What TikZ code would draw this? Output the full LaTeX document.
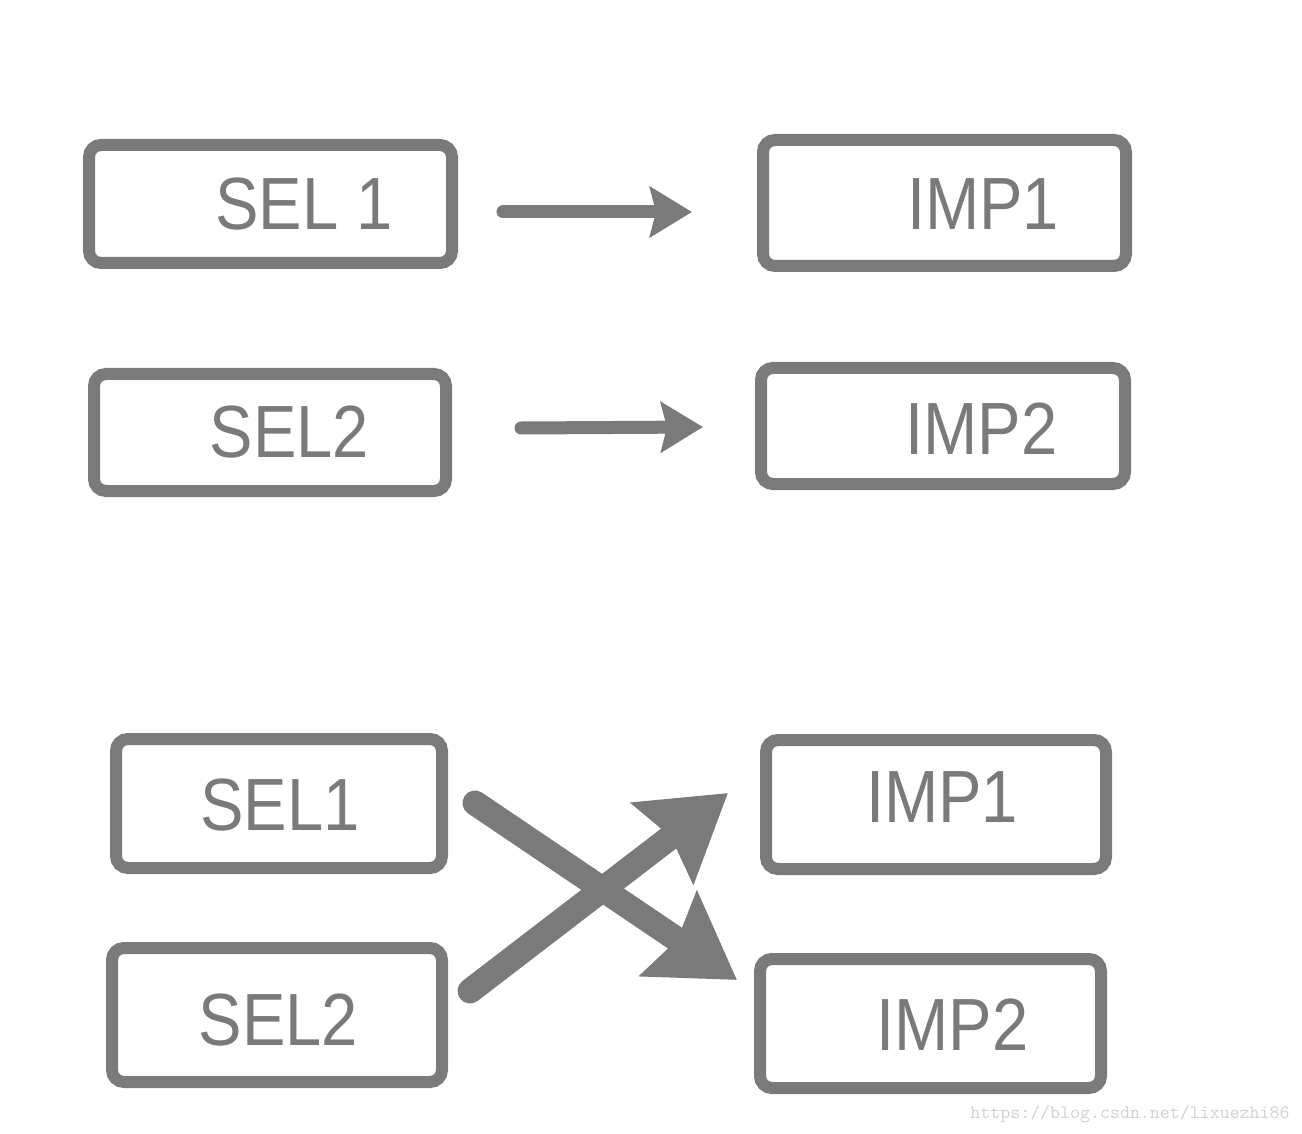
\documentclass[tikz,border=0pt]{standalone}
\usepackage{fontspec}
\setmainfont{Liberation Sans}
\usepackage{tikz}
\usetikzlibrary{arrows.meta,positioning,calc}
\definecolor{boxgray}{RGB}{122,122,122}
\definecolor{markgray}{RGB}{210,210,210}
\tikzset{
	box/.style 2 args={draw=boxgray, line width=6pt, rounded corners=6pt, inner sep=0pt, outer sep=0pt, minimum width=#1, minimum height=#2},
	lbl/.style={anchor=base, inner sep=0pt, text=boxgray, xscale=0.88, font=\fontsize{37}{40}\selectfont},
	thinarrow/.style={draw=boxgray, line width=6.5pt, line cap=round, -{Stealth[length=21pt, width=25pt, inset=3pt]}},
	fatarrow/.style={draw=boxgray, line width=12.5pt, line cap=round, -{Stealth[length=41pt, width=50pt, inset=5pt]}}
}

\begin{document}
\begin{tikzpicture}[x=0.5pt, y=-0.5pt]
		\useasboundingbox (0,0) rectangle (1302,1134);

		\node[box={181.5pt}{59pt}] (sel1a) at (270.5,204) {};
		\node[box={181.5pt}{63pt}] (imp1a) at (944.5,203) {};
		\node[box={176pt}{58.5pt}] (sel2a) at (270,432.5) {};
		\node[box={182pt}{58pt}] (imp2a) at (943,426) {};
		\node[box={163pt}{64.5pt}] (sel1b) at (279,803.5) {};
		\node[box={170pt}{64.5pt}] (imp1b) at (936,804.5) {};
		\node[box={165pt}{67pt}] (sel2b) at (277,1015) {};
		\node[box={170.5pt}{64.5pt}] (imp2b) at (930.5,1023.5) {};

		\node[lbl] (sel1a-t) at (304,230) {SEL 1};
		\node[lbl] (imp1a-t) at (983,230) {IMP1};
		\node[lbl] (sel2a-t) at (289.5,458) {SEL2};
		\node[lbl] (imp2a-t) at (981.5,454) {IMP2};
		\node[lbl] (sel1b-t) at (280,830) {SEL1};
		\node[lbl] (imp1b-t) at (942,822) {IMP1};
		\node[lbl] (sel2b-t) at (278.5,1045) {SEL2};
		\node[lbl] (imp2b-t) at (952.5,1050) {IMP2};

		\coordinate (a1s) at (503,212);
		\coordinate (a1e) at (692,212);
		\coordinate (a2s) at (521,428);
		\coordinate (a2e) at (703,427);
		\coordinate (x1s) at (475,803);
		\coordinate (x1e) at (737,980);
		\coordinate (x2s) at (470,991);
		\coordinate (x2e) at (728,793);

		\draw[thinarrow] (a1s) -- (a1e);
		\draw[thinarrow] (a2s) -- (a2e);
		\draw[fatarrow] (x1s) -- (x1e);
		\draw[fatarrow] (x2s) -- (x2e);

		\node[anchor=base east, inner sep=0pt, text=markgray, font=\ttfamily\fontsize{9.5}{10}\selectfont] (mark) at (1290,1118) {https://blog.csdn.net/lixuezhi86};
	\end{tikzpicture}
\end{document}
